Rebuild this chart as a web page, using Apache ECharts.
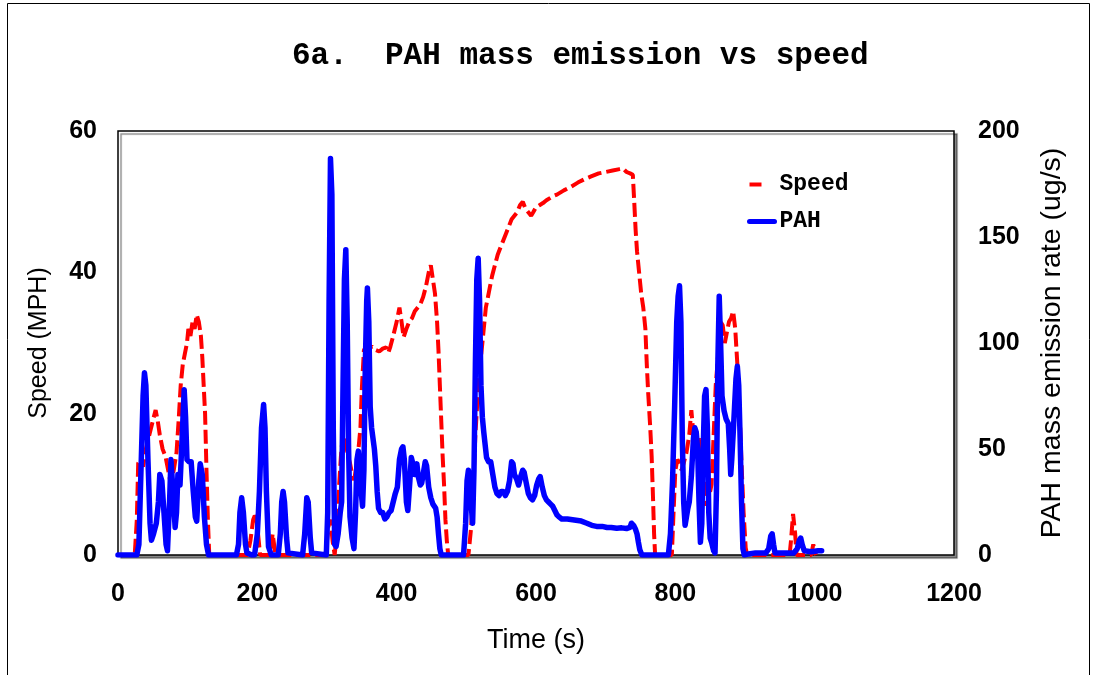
<!DOCTYPE html>
<html>
<head>
<meta charset="utf-8">
<script src="https://cdn.jsdelivr.net/npm/echarts@6/dist/echarts.min.js"></script>
<style>
  html, body { margin: 0; padding: 0; background: #fff; }
  #chart { width: 1094px; height: 675px; }
</style>
</head>
<body>
<div id="chart"></div>
<script>
// ---- Data ----
const titleText = '6a.  PAH mass emission vs speed';
const xTicks = [0, 200, 400, 600, 800, 1000, 1200];
const speedTicks = [0, 20, 40, 60];
const pahTicks = [0, 50, 100, 150, 200];

const speedTime = [0,24,27,29,33,36,40,45,50,54,57,60,64,68,72,76,80,84,87,90,93,96,99,101,104,107,110,113,116,119,121,123,125,127,129,131,
  186,190,194,198,201,204,218,222,226,298,302,305,308,311,314,317.5,320,323,327,330,333,336,339,342,345,348,350,353,357,361,365,370,375,380,385,388,391,395,400,404,407,410,414,418,422,426,430,434,438,442,446,449,452,455,458,460,462,464,466,468,470,472,474,
  503,507,510,513,516,519,522,525,528,531,534,537,541,545,549,553,557,561,565,569,573,577,581,585,589,593,596,600,605,610,615,620,625,630,640,650,660,670,680,690,700,710,720,725,730,735,739,741,743,745,748,751,754,757,759,761,764,766,768,769.5,771,
  795,797,800,803,806,809,812,816,820,823,826,830,833,837,840,844,848,852,855,858,862,865,868,871,874,877,880,883,886,889,892,895,898,901,903,
  964,966,969,972,974,995,998,1000,1002];
const speedMph = [0,0,5,13,13.5,12.5,15,17,19,20.5,19,17,15,14,12,10,12,14.5,19,24,27,28.5,30,32,31,33,32,34,33,31,28,24,20,12,5,0,
  0,2,5,6,3,0,0,3,0,0,4,5,2,0,3,10,14,17.2,16,14,13,11.5,10.6,12.5,14.8,18,23.5,29,29.6,29.3,29.5,29,28.8,29.2,29.4,28.6,29.5,31,33,35,33,30.8,32,33,33.5,34.5,35,35.5,36.5,38,40,41,39,37,33,29,24,19,14,10,5,2,0,
  0,4,10,17,22,26,29,32,35,36.5,38,39.5,41,42.5,43.5,44.5,45.5,46.5,47.5,48,48.5,49.5,50,49,48.5,48,48.5,49.2,49.5,49.8,50.2,50.5,50.8,51,51.6,52.1,52.7,53.2,53.6,54,54.2,54.4,54.6,54.7,54.2,54,53.8,50,46,43,40,37,35,32,27,23,18,14,8,3,0,
  0,5,12,13.5,13,12,13,14.5,17,20.5,17,14,15,16.5,12,7,8,10,17,24,29,33,32.5,30,31.5,33,33.5,34.5,32,27,21,13,6,1,0,
  0,2,5.8,3,0,0,1.5,0.5,0];

const pahTime = [0,27,30,33,36,38,40,43,46,48,51,55,58,60,63,66,69,71,74,76,79,82,84,86,89,92,95,97,99,102,105,108,111,113,116,118,121,124,127,130,
  170,173,175,177.5,180,183,185,192,196,200,203,206,209,211,213,216,220,230,233,235,237,239,242,244,265,268,271,273,276,278,299,301,303,305,307,309,311,313,316,319,321,323,325,327,329,331,333,336,338.7,341,343,345,347,349,351,353,355,357,358,360,362,364,366,368,370,372,374,377,380,383,386,389,392,395,398,401,404,407,409,411,414,416,419,421,424,426,429,431,434,436,438,441,443,446,449,452,456,458,460,462,464,
  496,499,501,503,506,509,511,513,515,517,519,521,523,525,527,529,532,535,538,541,544,547,550,553,556,559,562,565,567,569,572,575,578,581,583,586,589,592,595,598,601,604,606,609,612,615,618,621,624,627,630,633,637,645,655,665,673,680,687,695,702,708,716,723,730,735,737,740,743,745,747,749,752,
  790,793,796,799,802,804,806,808,810,812,814,816,818,820,823,826,828,830,832,834,836,838,840,842,844,846,848,850,852,855,857,859,861,863,865,867,870,873,876,878,879.5,881,883,885,887,889,891,893,895,897,899,
  905,915,930,934,937,939,941,943,960,970,975,978,980,982,985,995,1005,1010];
const pahRate = [0,0,5,40,75,86,80,45,15,7,10,15,25,38,35,20,5,2,25,45,30,13,20,38,33,55,78,65,45,44,44,30,18,16,35,43,38,18,5,0,
  0,5,20,27,20,5,1,0,0,10,30,60,71,60,30,4,0,0,10,25,30,25,8,1,0,10,27,25,8,1,0,20,120,187,170,60,5,4,10,20,25,80,130,144,110,50,18,8,3,20,45,49,42,30,23,40,90,120,126,110,70,60,55,50,42,30,22,20,20,17,18,20,21,25,29,32,45,50,51,45,25,21,35,46,42,38,43,37,33,34,38,44,42,32,27,24,22,18,10,3,0,
  0,15,35,40,28,15,40,90,130,140,120,80,65,58,52,46,44,44,38,32,29,28,30,30,28,30,35,44,43,38,36,33,37,40,39,34,29,27,26,28,33,36,37,32,28,26,25,24,23,21,19,18,17,17,16.5,16,15,14,13.5,13.5,13,13,12.6,12.8,12.5,13,15,14,12,10,6,2.5,0,
  0,10,35,70,110,122,127,110,55,25,14,18,22,25,37,55,60,58,50,25,6,15,50,75,78,60,20,8,6,2,1,30,90,122,100,75,68,64,62,50,38,45,57,70,83,89,80,55,25,3,0,
  0.5,1,1,3,9,10,5,1,1,1,3,7,8,5,2,1.5,2,2];

// ---- build series data ----
const speedData = speedTime.map((t, i) => [t, speedMph[i]]);
const pahData = pahTime.map((t, i) => [t, pahRate[i]]);

const chart = echarts.init(document.getElementById('chart'), null, { renderer: 'canvas' });
const sansBold = { fontFamily: 'Liberation Sans, Arial, sans-serif', fontWeight: 'bold', color: '#000' };
const plain = v => String(v);

chart.setOption({
  animation: false,
  backgroundColor: '#fff',
  title: {
    text: titleText,
    left: 287,
    top: 36,
    textStyle: { fontFamily: 'Liberation Mono, monospace', fontWeight: 'bold', fontSize: 31, color: '#000' }
  },
  legend: {
    orient: 'vertical',
    left: 742,
    top: 168,
    itemWidth: 25,
    itemHeight: 14,
    itemGap: 14,
    textStyle: { fontFamily: 'Liberation Mono, monospace', fontWeight: 'bold', fontSize: 23, color: '#000' },
    data: [
      { name: 'Speed', lineStyle: { type: [12, 20], width: 4, color: '#ff0000' }, itemStyle: { opacity: 0 } },
      { name: 'PAH', lineStyle: { width: 5, color: '#0000ff', cap: 'round' }, itemStyle: { opacity: 0 } }
    ]
  },
  graphic: [{
    type: 'rect',
    shape: { x: 7.5, y: 3.5, width: 1082, height: 700 },
    style: { fill: 'none', stroke: '#000', lineWidth: 1 },
    silent: true
  }],
  grid: {
    left: 118, right: 140, top: 131, bottom: 120,
    show: true,
    backgroundColor: '#fff',
    borderColor: '#000',
    borderWidth: 1.5,
    shadowColor: 'rgba(0,0,0,0.45)',
    shadowOffsetX: 3,
    shadowOffsetY: 3,
    shadowBlur: 1
  },
  xAxis: {
    type: 'value',
    min: xTicks[0], max: xTicks[xTicks.length - 1], interval: 200,
    name: 'Time (s)',
    nameLocation: 'middle',
    nameGap: 72,
    nameTextStyle: { fontFamily: 'Liberation Sans, Arial, sans-serif', fontSize: 27, color: '#000' },
    axisLine: { show: false },
    axisTick: { show: false },
    splitLine: { show: false },
    axisLabel: Object.assign({ fontSize: 25, margin: 27, formatter: plain }, sansBold)
  },
  yAxis: [{
    type: 'value',
    min: speedTicks[0], max: speedTicks[speedTicks.length - 1], interval: 20,
    name: 'Speed (MPH)',
    nameLocation: 'middle',
    nameRotate: 90,
    nameGap: 66,
    nameTextStyle: { fontFamily: 'Liberation Sans, Arial, sans-serif', fontSize: 25, color: '#000' },
    axisLine: { show: false },
    axisTick: { show: false },
    splitLine: { show: false },
    axisLabel: Object.assign({ fontSize: 25, margin: 21, formatter: plain }, sansBold)
  }, {
    type: 'value',
    position: 'right',
    min: pahTicks[0], max: pahTicks[pahTicks.length - 1], interval: 50,
    name: 'PAH mass emission rate (ug/s)',
    nameLocation: 'middle',
    nameRotate: 90,
    nameGap: 84,
    nameTextStyle: { fontFamily: 'Liberation Sans, Arial, sans-serif', fontSize: 28.5, color: '#000', verticalAlign: 'top' },
    axisLine: { show: false },
    axisTick: { show: false },
    splitLine: { show: false },
    axisLabel: Object.assign({ fontSize: 25, margin: 24, formatter: plain }, sansBold)
  }],
  series: [{
    name: 'Speed',
    type: 'line',
    yAxisIndex: 0,
    data: speedData,
    symbol: 'none',
    lineStyle: { color: '#ff0000', width: 4, type: [14, 5] },
    itemStyle: { color: '#ff0000' },
    z: 2
  }, {
    name: 'PAH',
    type: 'line',
    yAxisIndex: 1,
    data: pahData,
    symbol: 'none',
    lineStyle: { color: '#0000ff', width: 5.5, join: 'round', cap: 'round' },
    itemStyle: { color: '#0000ff' },
    z: 3
  }]
});
</script>
</body>
</html>
